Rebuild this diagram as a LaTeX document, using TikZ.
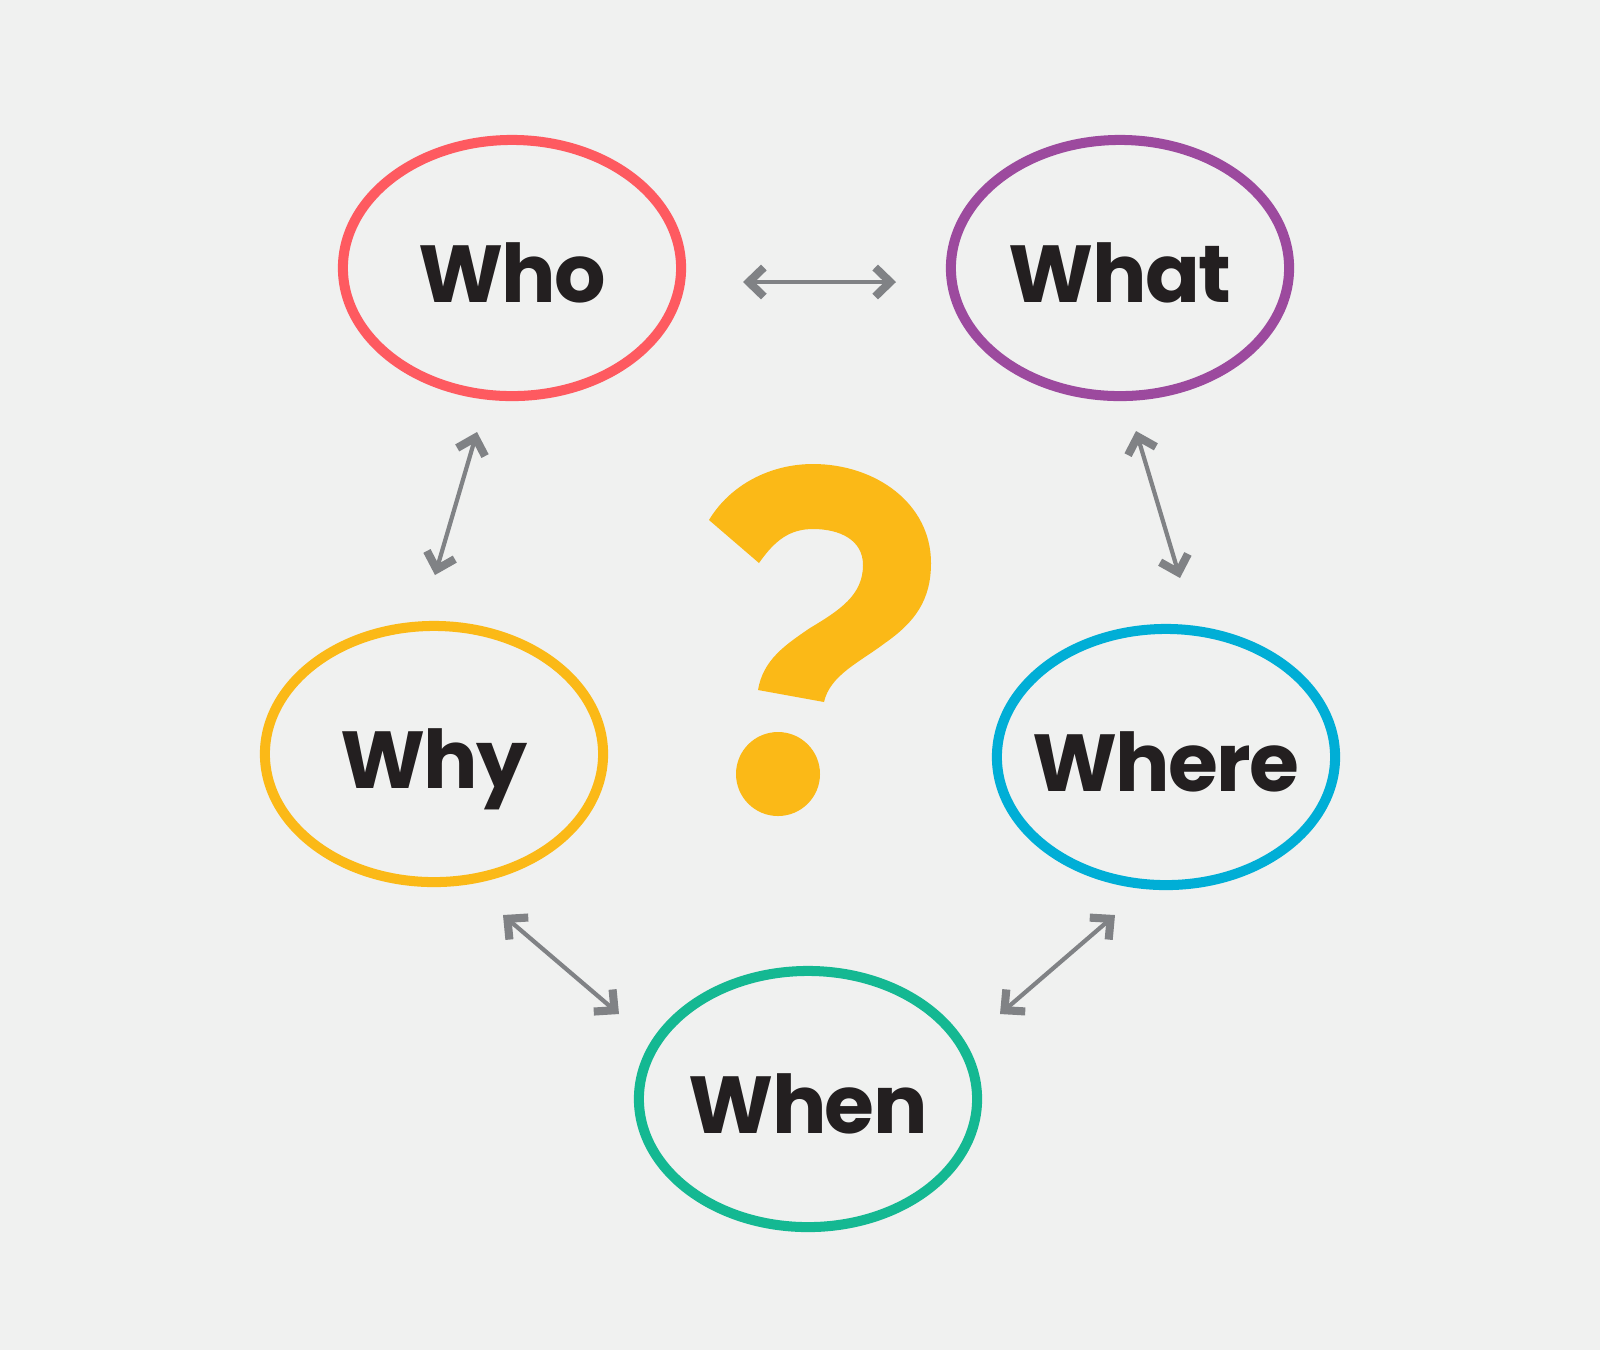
\documentclass[tikz,border=0pt]{standalone}
\usepackage{fontspec}
\setmainfont{Poppins}
\usetikzlibrary{arrows.meta,shapes.geometric}
\definecolor{paper}{HTML}{F0F1F0}
\definecolor{ink}{HTML}{231F20}
\definecolor{linkgray}{HTML}{808285}
\definecolor{whored}{HTML}{FE5A60}
\definecolor{whatpurple}{HTML}{9C4A9E}
\definecolor{whyyellow}{HTML}{FBB917}
\definecolor{wherecyan}{HTML}{00AED6}
\definecolor{whengreen}{HTML}{14B892}

\begin{document}
\begin{tikzpicture}[x=0.01cm,y=-0.01cm,
  word/.style={ellipse,draw,line width=2.85pt,minimum width=3.38cm,minimum height=2.56cm,
    inner sep=0pt},
  wordtext/.style={inner sep=0pt,text=ink,yshift=-0.6mm,
    font=\fontsize{23}{23}\selectfont\bfseries\addfontfeature{LetterSpace=-2},
    text height=16.1pt,text depth=0pt},
  link/.style={draw=linkgray,line width=1.2pt,
    {Straight Barb[sharp,length=1.5mm,width=2.9mm,line width=2.3pt]}-{Straight Barb[sharp,length=1.5mm,width=2.9mm,line width=2.3pt]}}]

\fill[paper] (0,0) rectangle (1600,1350);

\node[word,draw=whored,label={[wordtext]center:Who}]         (who)   at (512,268)  {};
\node[word,draw=whatpurple,label={[wordtext]center:What}]    (what)  at (1120,268) {};
\node[word,draw=whyyellow,label={[wordtext]center:Why}]      (why)   at (434,754)  {};
\node[word,draw=wherecyan,label={[wordtext]center:Where}]    (where) at (1166,757) {};
\node[word,draw=whengreen,label={[wordtext]center:When}]     (when)  at (808,1099) {};

\coordinate (whoR)   at (743,282);
\coordinate (whatL)  at (896,282);
\coordinate (whoB)   at (477,432);
\coordinate (whyT)   at (435,575);
\coordinate (whatB)  at (1136,431);
\coordinate (whereT) at (1180,578);
\coordinate (whyB)   at (503,915);
\coordinate (whenL)  at (619,1014);
\coordinate (whereB) at (1115,915);
\coordinate (whenR)  at (1000,1014);

\foreach \a/\b in {whoR/whatL,whoB/whyT,whatB/whereT,whyB/whenL,whereB/whenR}
  \draw[link] (\a) -- (\b);

\fill[whyyellow] (709,520) -- (759,563)
  .. controls (775,540) and (790,529) .. (813,529)
  .. controls (840,529) and (863,540) .. (863,565)
  .. controls (863,595) and (840,610) .. (810,628)
  .. controls (785,645) and (763,660) .. (758,690)
  -- (824,702)
  .. controls (830,675) and (860,662) .. (885,643)
  .. controls (915,622) and (931,600) .. (931,563)
  .. controls (931,503) and (875,464) .. (813,464)
  .. controls (770,464) and (730,485) .. (709,520) -- cycle;
\fill[whyyellow] (778,774) circle (42);

\end{tikzpicture}
\end{document}
